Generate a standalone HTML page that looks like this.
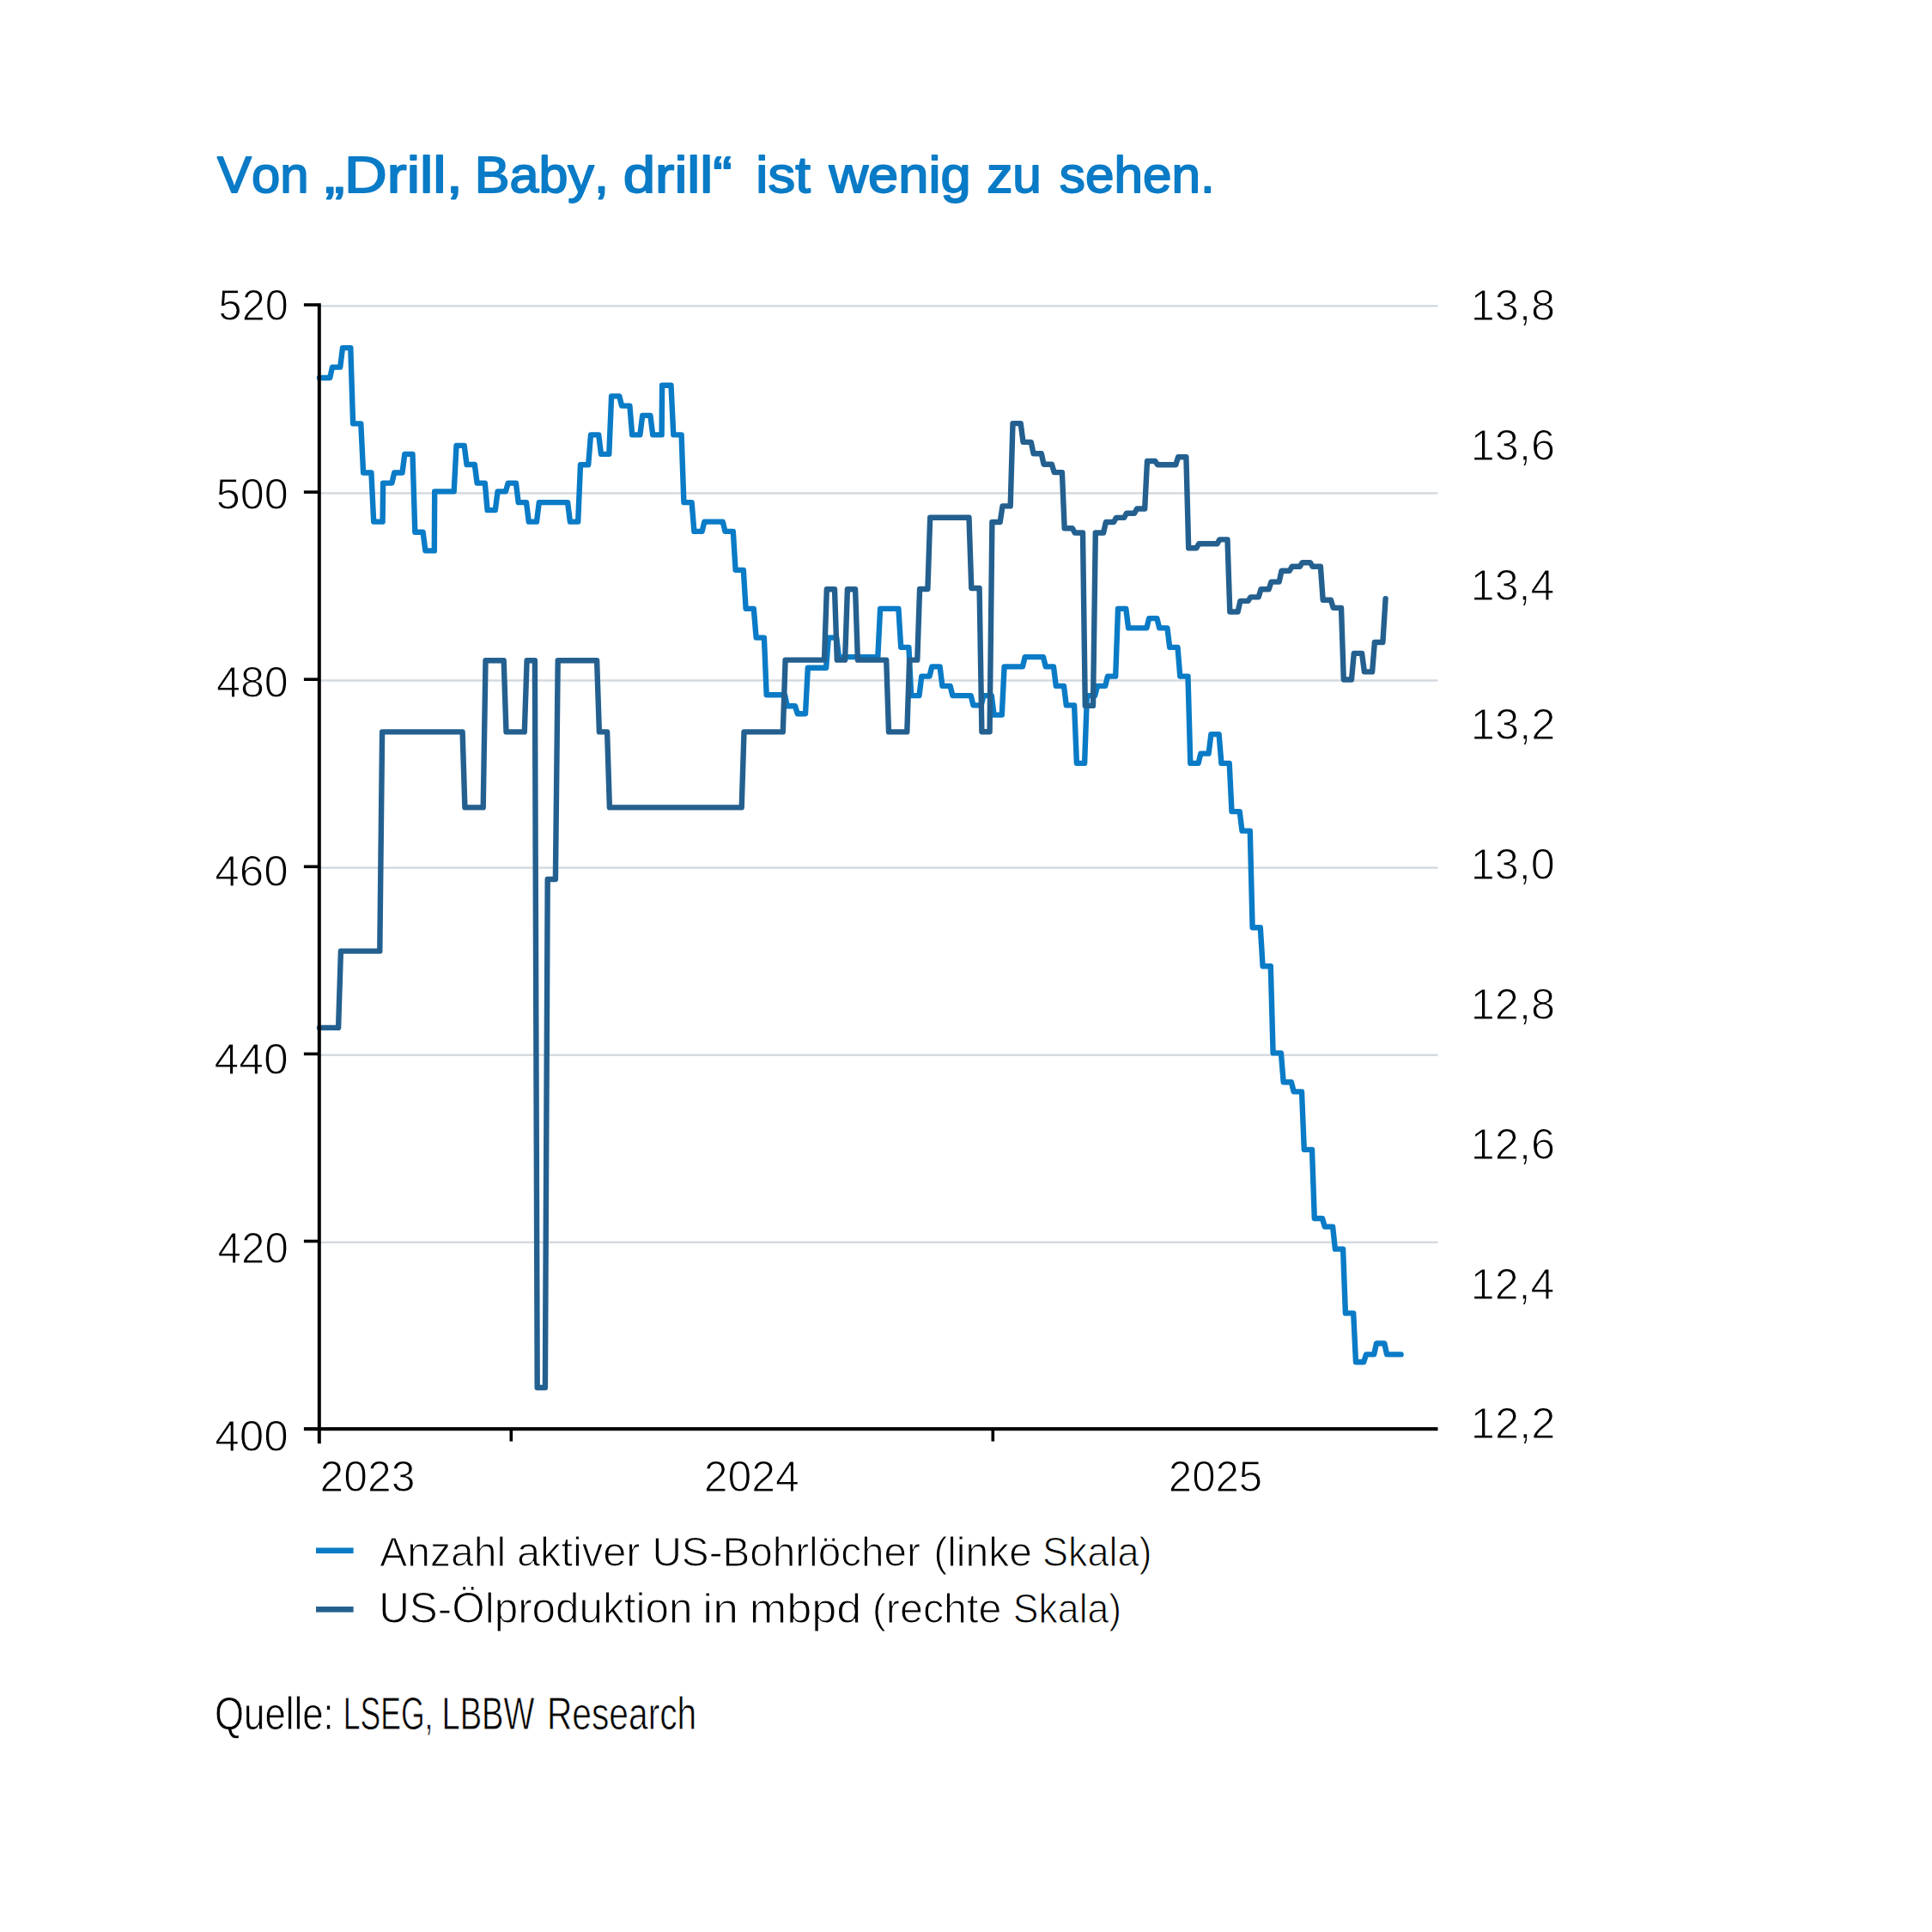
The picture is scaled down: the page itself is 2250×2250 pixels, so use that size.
<!DOCTYPE html>
<html lang="de"><head><meta charset="utf-8"><title>Von „Drill, Baby, drill“ ist wenig zu sehen.</title>
<style>
html,body{margin:0;padding:0;background:#fff;}
body{width:2250px;height:2250px;overflow:hidden;}
svg{display:block;}
text{font-family:"Liberation Sans",sans-serif;fill:#000;font-kerning:none;white-space:pre;}
.t{fill:#0a7bc6;stroke:#0a7bc6;stroke-width:1.8px;stroke-linejoin:round;}
.a,.l{stroke:#fff;stroke-width:1.1px;}
.s{stroke:#fff;stroke-width:0.8px;}
</style></head><body>
<svg width="2250" height="2250" viewBox="0 0 2250 2250">
<rect width="2250" height="2250" fill="#fff"/>

<text class="t" transform="translate(253.04,223.60) scale(1.0140,1)" font-size="59" >Von</text>
<text class="t" transform="translate(378.18,223.60) scale(1.1671,1)" font-size="59" >„Drill,</text>
<text class="t" transform="translate(552.69,223.60) scale(1.0353,1)" font-size="59" >Baby,</text>
<text class="t" transform="translate(725.68,223.60) scale(1.1386,1)" font-size="59" >drill“</text>
<text class="t" transform="translate(880.36,223.60) scale(1.0747,1)" font-size="59" >ist</text>
<text class="t" transform="translate(965.39,223.60) scale(1.0722,1)" font-size="59" >wenig</text>
<text class="t" transform="translate(1149.15,223.60) scale(1.0231,1)" font-size="59" >zu</text>
<text class="t" transform="translate(1233.82,223.60) scale(1.0211,1)" font-size="59" >sehen.</text>
<rect x="373" y="355.1" width="1301.5" height="2.4" fill="#d3d9de"/>
<rect x="373" y="573.2" width="1301.5" height="2.4" fill="#d3d9de"/>
<rect x="373" y="791.3" width="1301.5" height="2.4" fill="#d3d9de"/>
<rect x="373" y="1009.4" width="1301.5" height="2.4" fill="#d3d9de"/>
<rect x="373" y="1227.5" width="1301.5" height="2.4" fill="#d3d9de"/>
<rect x="373" y="1445.6" width="1301.5" height="2.4" fill="#d3d9de"/>
<text class="a" transform="translate(254.60,373.20) scale(0.9727,1)" font-size="50" >520</text>
<text class="a" transform="translate(251.73,592.70) scale(1.0080,1)" font-size="50" >500</text>
<text class="a" transform="translate(252.00,812.20) scale(1.0047,1)" font-size="50" >480</text>
<text class="a" transform="translate(250.37,1031.70) scale(1.0246,1)" font-size="50" >460</text>
<text class="a" transform="translate(249.56,1251.20) scale(1.0346,1)" font-size="50" >440</text>
<text class="a" transform="translate(253.62,1470.70) scale(0.9848,1)" font-size="50" >420</text>
<text class="a" transform="translate(250.27,1690.20) scale(1.0259,1)" font-size="50" >400</text>
<text class="a" transform="translate(1712.81,372.90) scale(1.0095,1)" font-size="50" >13,8</text>
<text class="a" transform="translate(1712.80,535.70) scale(1.0098,1)" font-size="50" >13,6</text>
<text class="a" transform="translate(1712.83,698.50) scale(1.0017,1)" font-size="50" >13,4</text>
<text class="a" transform="translate(1712.79,861.30) scale(1.0133,1)" font-size="50" >13,2</text>
<text class="a" transform="translate(1712.81,1024.10) scale(1.0071,1)" font-size="50" >13,0</text>
<text class="a" transform="translate(1712.81,1186.90) scale(1.0095,1)" font-size="50" >12,8</text>
<text class="a" transform="translate(1712.80,1349.70) scale(1.0098,1)" font-size="50" >12,6</text>
<text class="a" transform="translate(1712.83,1512.50) scale(1.0017,1)" font-size="50" >12,4</text>
<text class="a" transform="translate(1712.79,1675.30) scale(1.0133,1)" font-size="50" >12,2</text>
<path d="M372.0,440.0 L384.2,440.0 L387.0,427.6 L396.2,427.6 L399.0,405.1 L408.3,405.1 L411.1,493.4 L420.3,493.4 L423.1,550.5 L432.4,550.5 L435.2,607.6 L445.6,607.6 L446.1,562.6 L456.4,562.6 L459.2,550.5 L468.5,550.5 L471.3,528.9 L480.5,528.9 L483.3,619.7 L492.6,619.7 L495.4,641.4 L505.8,641.4 L506.2,572.4 L528.7,572.4 L531.5,518.9 L540.7,518.9 L543.5,541.0 L552.8,541.0 L555.6,562.6 L564.8,562.6 L567.6,594.1 L576.8,594.1 L579.6,572.4 L588.9,572.4 L591.7,562.6 L600.9,562.6 L603.7,585.1 L613.0,585.1 L615.8,607.6 L625.0,607.6 L627.8,585.1 L661.1,585.1 L663.9,607.6 L673.2,607.6 L676.0,541.2 L685.2,541.2 L688.0,506.4 L697.2,506.4 L700.0,528.9 L709.3,528.9 L712.1,461.4 L721.3,461.4 L724.1,472.6 L733.4,472.6 L736.2,506.4 L745.4,506.4 L748.2,483.9 L757.4,483.9 L760.2,506.4 L770.6,506.4 L771.1,448.8 L781.5,448.8 L784.3,506.4 L793.6,506.4 L796.4,585.1 L805.6,585.1 L808.4,618.9 L817.6,618.9 L820.4,607.6 L841.7,607.6 L844.5,618.9 L853.8,618.9 L856.6,663.9 L865.8,663.9 L868.6,708.9 L877.8,708.9 L880.6,742.6 L889.9,742.6 L892.7,809.3 L914.0,809.3 L916.8,822.2 L926.0,822.2 L928.8,831.2 L938.0,831.2 L940.8,777.8 L962.1,777.8 L964.9,742.6 L974.2,742.6 L977.0,765.1 L1022.3,765.1 L1025.1,708.9 L1046.4,708.9 L1049.2,753.9 L1058.4,753.9 L1061.2,810.1 L1070.5,810.1 L1073.3,787.6 L1082.5,787.6 L1085.3,776.4 L1094.6,776.4 L1097.4,798.9 L1106.6,798.9 L1109.4,810.1 L1130.7,810.1 L1133.5,821.4 L1142.7,821.4 L1145.5,810.1 L1154.8,810.1 L1157.6,832.6 L1166.8,832.6 L1169.6,776.4 L1190.9,776.4 L1193.7,765.1 L1215.0,765.1 L1217.8,776.4 L1227.0,776.4 L1229.8,798.9 L1239.0,798.9 L1241.8,821.4 L1251.1,821.4 L1253.9,888.9 L1263.1,888.9 L1265.9,810.1 L1275.2,810.1 L1278.0,798.9 L1287.2,798.9 L1290.0,787.6 L1299.2,787.6 L1302.0,708.9 L1311.3,708.9 L1314.1,731.4 L1335.4,731.4 L1338.2,720.1 L1347.4,720.1 L1350.2,731.4 L1359.4,731.4 L1362.2,753.9 L1371.5,753.9 L1374.3,787.6 L1383.5,787.6 L1386.3,888.9 L1395.6,888.9 L1398.4,877.6 L1407.6,877.6 L1410.4,855.1 L1419.6,855.1 L1422.4,888.9 L1431.7,888.9 L1434.5,945.1 L1443.7,945.1 L1446.5,967.6 L1455.8,967.6 L1458.6,1080.2 L1467.8,1080.2 L1470.6,1125.2 L1479.8,1125.2 L1482.6,1226.4 L1491.9,1226.4 L1494.7,1260.2 L1503.9,1260.2 L1506.7,1271.4 L1516.0,1271.4 L1518.8,1338.9 L1528.0,1338.9 L1530.8,1419.0 L1540.0,1419.0 L1542.8,1428.6 L1552.1,1428.6 L1554.9,1454.6 L1564.1,1454.6 L1566.9,1529.4 L1576.2,1529.4 L1579.0,1586.3 L1588.2,1586.3 L1591.0,1577.4 L1600.2,1577.4 L1603.0,1564.5 L1612.3,1564.5 L1615.1,1577.4 L1631.6,1577.4" fill="none" stroke="#0a7bc6" stroke-width="6.4" stroke-linejoin="round" stroke-linecap="round"/>
<path d="M372.0,1196.9 L394.1,1196.9 L396.9,1107.6 L442.3,1107.6 L445.1,852.4 L538.6,852.4 L541.4,940.4 L562.7,940.4 L565.5,769.3 L586.7,769.3 L589.5,852.4 L610.8,852.4 L613.6,769.3 L622.9,769.3 L625.7,1616.0 L634.9,1616.0 L637.7,1024.0 L646.9,1024.0 L649.7,769.3 L695.1,769.3 L697.9,852.4 L707.1,852.4 L709.9,940.4 L863.7,940.4 L866.5,852.4 L911.8,852.4 L914.6,768.6 L960.0,768.6 L962.8,686.3 L972.0,686.3 L974.8,768.6 L984.1,768.6 L986.9,686.3 L996.1,686.3 L998.9,768.6 L1032.2,768.6 L1035.0,852.4 L1056.3,852.4 L1059.1,768.6 L1068.3,768.6 L1071.1,686.0 L1080.4,686.0 L1083.2,602.8 L1128.5,602.8 L1131.3,685.0 L1140.6,685.0 L1143.4,852.3 L1152.6,852.3 L1155.4,608.0 L1164.7,608.0 L1167.5,589.4 L1176.7,589.4 L1179.5,493.1 L1188.7,493.1 L1191.5,514.9 L1200.8,514.9 L1203.6,528.3 L1212.8,528.3 L1215.6,540.7 L1224.9,540.7 L1227.7,550.1 L1236.9,550.1 L1239.7,615.3 L1248.9,615.3 L1251.7,620.5 L1261.0,620.5 L1263.8,821.9 L1273.0,821.9 L1275.8,620.5 L1285.1,620.5 L1287.9,608.0 L1297.1,608.0 L1299.9,602.9 L1309.1,602.9 L1311.9,597.7 L1321.2,597.7 L1324.0,592.5 L1333.2,592.5 L1336.0,537.0 L1345.3,537.0 L1348.1,541.3 L1369.3,541.3 L1372.1,532.3 L1381.4,532.3 L1384.2,638.3 L1393.4,638.3 L1396.2,633.3 L1417.5,633.3 L1420.3,628.4 L1429.5,628.4 L1432.3,712.5 L1441.6,712.5 L1444.4,699.9 L1453.6,699.9 L1456.4,695.4 L1465.7,695.4 L1468.5,686.3 L1477.7,686.3 L1480.5,677.6 L1489.7,677.6 L1492.5,664.8 L1501.8,664.8 L1504.6,659.8 L1513.8,659.8 L1516.6,655.2 L1525.9,655.2 L1528.7,659.8 L1537.9,659.8 L1540.7,698.8 L1549.9,698.8 L1552.7,707.9 L1562.0,707.9 L1564.8,791.5 L1574.0,791.5 L1576.8,760.9 L1586.1,760.9 L1588.9,782.4 L1598.1,782.4 L1600.9,748.0 L1610.4,748.0 L1613.6,697.1" fill="none" stroke="#24608f" stroke-width="6.4" stroke-linejoin="round" stroke-linecap="round"/>
<rect x="369.8" y="353.2" width="4" height="1328" fill="#000"/>
<rect x="353.9" y="1662.1" width="1320.6" height="4.1" fill="#000"/>
<rect x="353.9" y="353.2" width="17" height="3.6" fill="#000"/>
<rect x="353.9" y="571.3" width="17" height="3.6" fill="#000"/>
<rect x="353.9" y="789.4" width="17" height="3.6" fill="#000"/>
<rect x="353.9" y="1007.5" width="17" height="3.6" fill="#000"/>
<rect x="353.9" y="1225.6" width="17" height="3.6" fill="#000"/>
<rect x="353.9" y="1443.7" width="17" height="3.6" fill="#000"/>
<rect x="593.5" y="1664" width="3.6" height="14.6" fill="#000"/>
<rect x="1154.5" y="1664" width="3.6" height="14.6" fill="#000"/>
<text class="a" transform="translate(372.55,1737.00) scale(0.9961,1)" font-size="50" >2023</text>
<text class="a" transform="translate(819.74,1737.00) scale(0.9986,1)" font-size="50" >2024</text>
<text class="a" transform="translate(1360.78,1737.00) scale(0.9839,1)" font-size="50" >2025</text>
<rect x="368" y="1802.5" width="43.6" height="6.6" fill="#0a7bc6"/>
<rect x="368" y="1871" width="43.6" height="6.6" fill="#24608f"/>
<text class="l" transform="translate(442.36,1823.60) scale(0.9792,1)" font-size="49" >Anzahl</text>
<text class="l" transform="translate(601.88,1823.60) scale(0.9963,1)" font-size="49" >aktiver</text>
<text class="l" transform="translate(759.47,1823.60) scale(0.9724,1)" font-size="49" >US-Bohrlöcher</text>
<text class="l" transform="translate(1087.17,1823.60) scale(0.9814,1)" font-size="49" >(linke</text>
<text class="l" transform="translate(1213.90,1823.60) scale(0.9197,1)" font-size="49" >Skala)</text>
<text class="l" transform="translate(441.14,1890.40) scale(1.0086,1)" font-size="49" >US-Ölproduktion</text>
<text class="l" transform="translate(818.37,1890.40) scale(1.0922,1)" font-size="49" >in</text>
<text class="l" transform="translate(872.78,1890.40) scale(1.0658,1)" font-size="49" >mbpd</text>
<text class="l" transform="translate(1015.75,1890.40) scale(0.9879,1)" font-size="49" >(rechte</text>
<text class="l" transform="translate(1179.83,1890.40) scale(0.9100,1)" font-size="49" >Skala)</text>
<text class="s" transform="translate(250.03,2013.60) scale(0.8258,1)" font-size="53" >Quelle:</text>
<text class="s" transform="translate(399.79,2013.60) scale(0.6700,1)" font-size="53" >LSEG,</text>
<text class="s" transform="translate(514.58,2013.60) scale(0.7180,1)" font-size="53" >LBBW</text>
<text class="s" transform="translate(636.96,2013.60) scale(0.7684,1)" font-size="53" >Research</text>
</svg></body></html>
